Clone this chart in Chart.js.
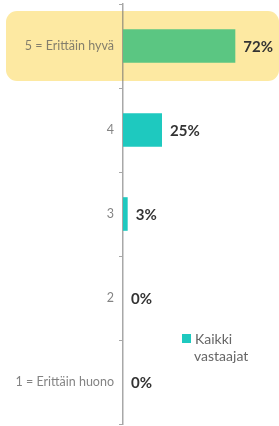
<!DOCTYPE html>
<html>
<head>
<meta charset="utf-8">
<script src="https://cdn.jsdelivr.net/npm/chart.js@4"></script>
<style>
  html, body { margin: 0; padding: 0; background: #fff; }
  #wrap { position: relative; width: 279px; height: 426px; }
</style>
</head>
<body>
<div id="wrap"><canvas id="chart"></canvas></div>
<script>
// data
const categories = ['5 = Erittäin hyvä', '4', '3', '2', '1 = Erittäin huono'];
const values = [72, 25, 3, 0, 0];
const seriesName = 'Kaikki vastaajat';
const highlightIndex = 0;

const teal = '#1ec9bf';
const green = '#5bc682';

// yellow box behind the highlighted row
const highlightBox = {
  id: 'highlightBox',
  beforeDraw(chart) {
    const y = chart.scales.y;
    const c = y.getPixelForValue(highlightIndex);
    const ctx = chart.ctx;
    ctx.save();
    ctx.fillStyle = '#fde9a2';
    ctx.beginPath();
    ctx.roundRect(6, c - 35, chart.width - 6, 70, 11);
    ctx.fill();
    ctx.restore();
  }
};

// percentage labels at bar ends
const valueLabels = {
  id: 'valueLabels',
  afterDatasetsDraw(chart) {
    const ctx = chart.ctx;
    const meta = chart.getDatasetMeta(0);
    ctx.save();
    ctx.font = 'bold 15px Lato';
    ctx.fillStyle = '#333';
    ctx.textBaseline = 'middle';
    meta.data.forEach(function (bar, i) {
      ctx.fillText(values[i] + '%', bar.x + 8, bar.y + 1);
    });
    ctx.restore();
  }
};

// legend drawn inside the plot
const sideLegend = {
  id: 'sideLegend',
  afterDraw(chart) {
    const ctx = chart.ctx;
    const words = seriesName.split(' ');
    ctx.save();
    ctx.fillStyle = teal;
    ctx.fillRect(182, 334, 9, 9);
    ctx.font = '14px Lato';
    ctx.fillStyle = '#666';
    ctx.textBaseline = 'alphabetic';
    ctx.fillText(words[0], 195, 344);
    ctx.fillText(words[1], 194, 361);
    ctx.restore();
  }
};

new Chart(document.getElementById('chart'), {
  type: 'bar',
  data: {
    labels: categories,
    datasets: [{
      label: seriesName,
      data: values,
      backgroundColor: values.map(function (v, i) { return i === highlightIndex ? green : teal; }),
      barPercentage: 0.4,
      categoryPercentage: 1.0
    }]
  },
  options: {
    indexAxis: 'y',
    responsive: true,
    maintainAspectRatio: false,
    animation: false,
    layout: { padding: { top: 4, bottom: 2, left: 0, right: 0 } },
    scales: {
      x: {
        display: false,
        min: 0,
        max: 100
      },
      y: {
        afterFit(scale) {
          scale.width = 123;
          scale.paddingTop = 0;
          scale.paddingBottom = 0;
        },
        grid: {
          offset: true,
          drawOnChartArea: false,
          tickLength: 4,
          color: 'rgba(110,110,110,0.6)'
        },
        border: { color: 'rgba(110,110,110,0.6)', width: 1.5 },
        ticks: {
          color: 'rgba(90,90,90,0.75)',
          font: { family: 'Lato', size: 12.5 },
          padding: 5
        }
      }
    },
    plugins: {
      legend: { display: false },
      tooltip: { enabled: false }
    }
  },
  plugins: [highlightBox, valueLabels, sideLegend]
});
</script>
</body>
</html>
